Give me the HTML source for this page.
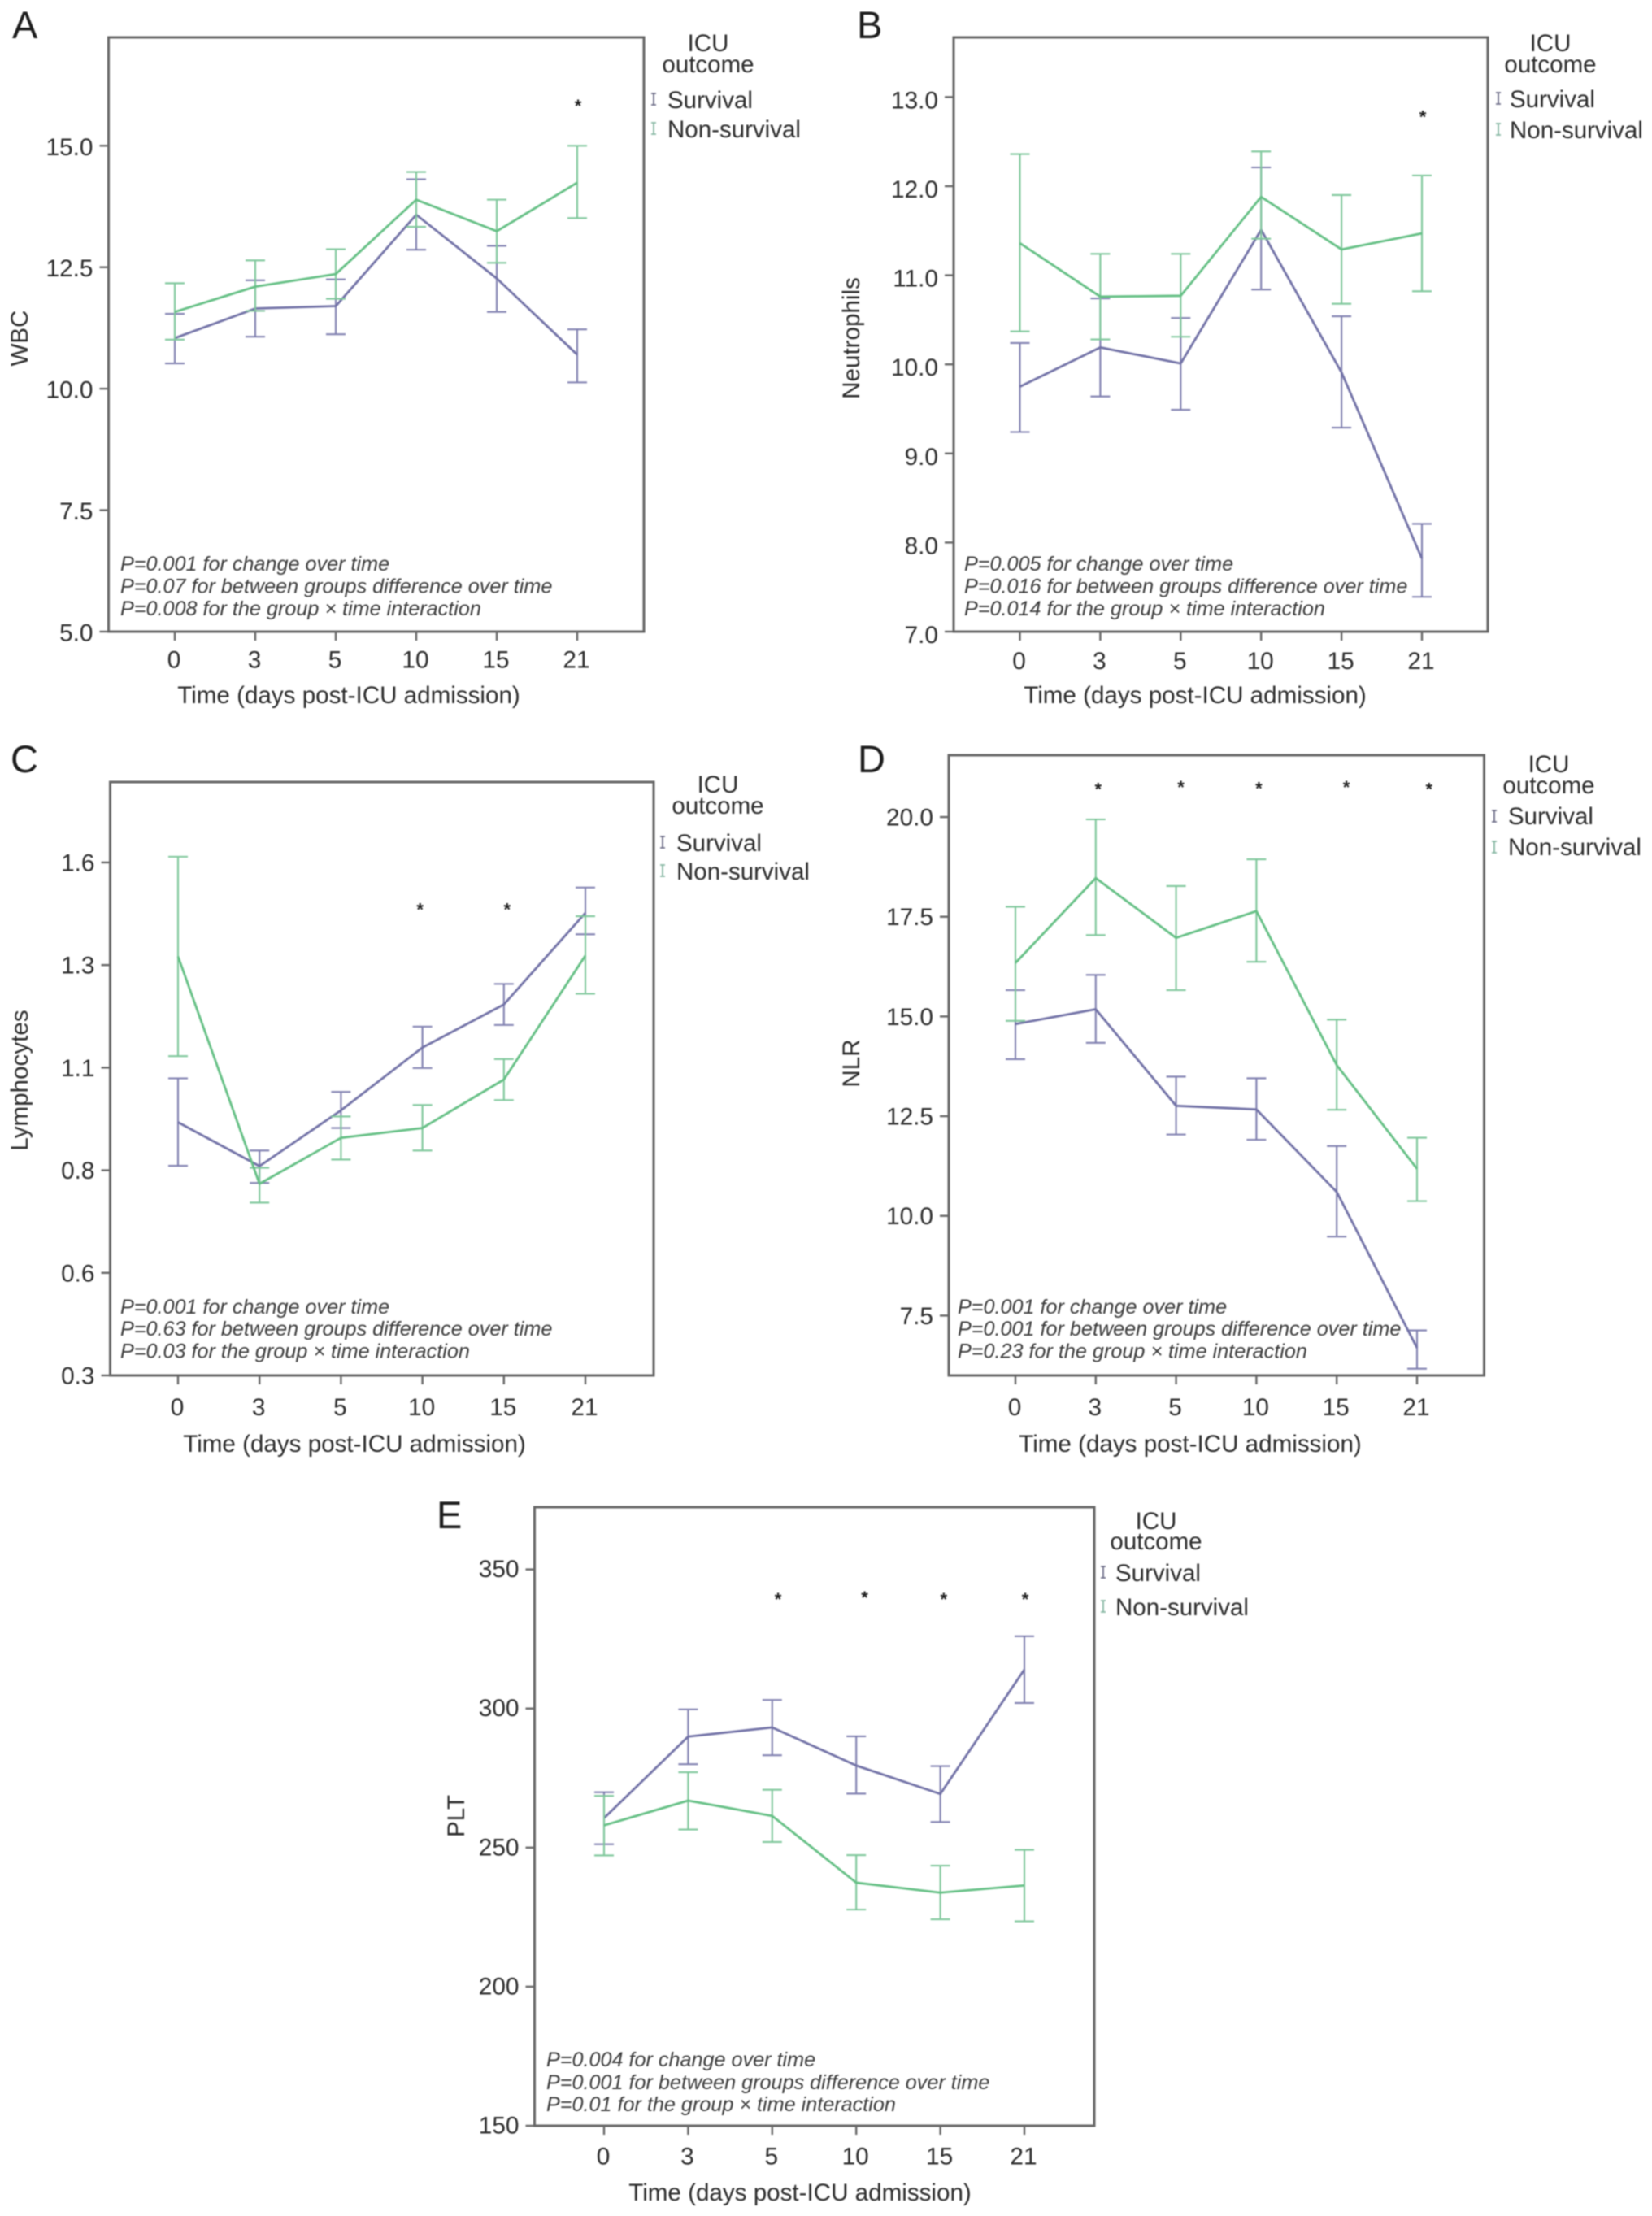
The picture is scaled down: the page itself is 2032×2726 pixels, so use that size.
<!DOCTYPE html>
<html>
<head>
<meta charset="utf-8">
<title>ICU outcome panels</title>
<style>
html,body{margin:0;padding:0;background:#fff;}
svg{display:block;filter:blur(0.85px);}
text{font-family:"Liberation Sans",sans-serif;fill:#2b2b2b;}
.panel-letter{font-size:47px;fill:#1c1c1c;}
.axis-title{font-size:29.6px;}
.legend-text{font-size:29.5px;}
.note{font-size:25.2px;font-style:italic;fill:#3a3a3a;}
.mid{text-anchor:middle;}
</style>
</head>
<body>
<svg id="figure" xmlns="http://www.w3.org/2000/svg" width="2032" height="2726" viewBox="0 0 2032 2726">
<rect width="2032" height="2726" fill="#fff"/>

<g id="panel-a">
<text class="panel-letter" x="15" y="47">A</text>
<text class="axis-title mid" transform="translate(34,416) rotate(-90)">WBC</text>
<text class="axis-title mid" x="429" y="865">Time (days post-ICU admission)</text>
<text class="legend-text mid" x="871" y="63">ICU</text>
<text class="legend-text mid" x="871" y="89">outcome</text>
<text class="legend-text" x="821" y="133">Survival</text>
<text class="legend-text" x="821" y="169">Non-survival</text>
<text class="note" x="148" y="702">P=0.001 for change over time</text>
<text class="note" x="148" y="729.5">P=0.07 for between groups difference over time</text>
<text class="note" x="148" y="757">P=0.008 for the group × time interaction</text>
</g>

<g id="panel-b">
<text class="panel-letter" x="1054" y="47">B</text>
<text class="axis-title mid" transform="translate(1057,416) rotate(-90)">Neutrophils</text>
<text class="axis-title mid" x="1470" y="865">Time (days post-ICU admission)</text>
<text class="legend-text mid" x="1907" y="63">ICU</text>
<text class="legend-text mid" x="1907" y="89">outcome</text>
<text class="legend-text" x="1857" y="132">Survival</text>
<text class="legend-text" x="1857" y="170">Non-survival</text>
<text class="note" x="1186" y="702">P=0.005 for change over time</text>
<text class="note" x="1186" y="729.5">P=0.016 for between groups difference over time</text>
<text class="note" x="1186" y="757">P=0.014 for the group × time interaction</text>
</g>

<g id="panel-c">
<text class="panel-letter" x="13" y="950">C</text>
<text class="axis-title mid" transform="translate(34,1329) rotate(-90)">Lymphocytes</text>
<text class="axis-title mid" x="436" y="1786">Time (days post-ICU admission)</text>
<text class="legend-text mid" x="883" y="975">ICU</text>
<text class="legend-text mid" x="883" y="1001">outcome</text>
<text class="legend-text" x="832" y="1047">Survival</text>
<text class="legend-text" x="832" y="1082">Non-survival</text>
<text class="note" x="148" y="1616">P=0.001 for change over time</text>
<text class="note" x="148" y="1643">P=0.63 for between groups difference over time</text>
<text class="note" x="148" y="1670.5">P=0.03 for the group × time interaction</text>
</g>

<g id="panel-d">
<text class="panel-letter" x="1055" y="950">D</text>
<text class="axis-title mid" transform="translate(1057,1308) rotate(-90)">NLR</text>
<text class="axis-title mid" x="1464" y="1786">Time (days post-ICU admission)</text>
<text class="legend-text mid" x="1905" y="950">ICU</text>
<text class="legend-text mid" x="1905" y="976">outcome</text>
<text class="legend-text" x="1855" y="1014">Survival</text>
<text class="legend-text" x="1855" y="1052">Non-survival</text>
<text class="note" x="1178" y="1616">P=0.001 for change over time</text>
<text class="note" x="1178" y="1643">P=0.001 for between groups difference over time</text>
<text class="note" x="1178" y="1670.5">P=0.23 for the group × time interaction</text>
</g>

<g id="panel-e">
<text class="panel-letter" x="537" y="1880">E</text>
<text class="axis-title mid" transform="translate(571,2234) rotate(-90)">PLT</text>
<text class="axis-title mid" x="984" y="2707">Time (days post-ICU admission)</text>
<text class="legend-text mid" x="1422" y="1881">ICU</text>
<text class="legend-text mid" x="1422" y="1906">outcome</text>
<text class="legend-text" x="1372" y="1945">Survival</text>
<text class="legend-text" x="1372" y="1987">Non-survival</text>
<text class="note" x="672" y="2542">P=0.004 for change over time</text>
<text class="note" x="672" y="2570">P=0.001 for between groups difference over time</text>
<text class="note" x="672" y="2597">P=0.01 for the group × time interaction</text>
</g>
</svg>

<script>
const categories = ["0","3","5","10","15","21"];

const wbcTicks = [5,7.5,10,12.5,15];
const wbcTickLabels = ["5.0","7.5","10.0","12.5","15.0"];
const wbcSurvivalMean  = [11.04,11.65,11.70,13.58,12.27,10.70];
const wbcSurvivalUpper = [11.54,12.23,12.25,14.31,12.94,11.22];
const wbcSurvivalLower = [10.52,11.07,11.12,12.86,11.58,10.13];
const wbcNonMean  = [11.58,12.10,12.36,13.89,13.24,14.24];
const wbcNonUpper = [12.17,12.64,12.87,14.46,13.89,15.00];
const wbcNonLower = [11.01,11.60,11.85,13.33,12.59,13.51];
const wbcStarPositions = [5.01];
const wbcStarLevels = [15.86];

const neuTicks = [7,8,9,10,11,12,13];
const neuTickLabels = ["7.0","8.0","9.0","10.0","11.0","12.0","13.0"];
const neuSurvivalMean  = [9.75,10.19,10.01,11.51,9.91,7.82];
const neuSurvivalUpper = [10.24,10.74,10.52,12.21,10.54,8.21];
const neuSurvivalLower = [9.24,9.64,9.49,10.84,9.29,7.39];
const neuNonMean  = [11.36,10.76,10.77,11.88,11.29,11.47];
const neuNonUpper = [12.36,11.24,11.24,12.39,11.90,12.12];
const neuNonLower = [10.37,10.28,10.31,11.41,10.68,10.82];
const neuStarPositions = [5.01];
const neuStarLevels = [12.8];

const lymTicks = [0.3,0.55,0.8,1.05,1.3,1.55];
const lymTickLabels = ["0.3","0.6","0.8","1.1","1.3","1.6"];
const lymSurvivalMean  = [0.917,0.810,0.946,1.099,1.204,1.427];
const lymSurvivalUpper = [1.024,0.848,0.991,1.150,1.254,1.489];
const lymSurvivalLower = [0.811,0.769,0.903,1.049,1.154,1.375];
const lymNonMean  = [1.321,0.767,0.879,0.903,1.021,1.323];
const lymNonUpper = [1.564,0.806,0.931,0.959,1.071,1.419];
const lymNonLower = [1.078,0.721,0.826,0.848,0.971,1.230];
const lymStarPositions = [2.97,4.04];
const lymStarLevels = [1.44,1.44];

const nlrTicks = [7.5,10,12.5,15,17.5,20];
const nlrTickLabels = ["7.5","10.0","12.5","15.0","17.5","20.0"];
const nlrSurvivalMean  = [14.81,15.18,12.76,12.67,10.60,6.69];
const nlrSurvivalUpper = [15.66,16.04,13.49,13.45,11.75,7.13];
const nlrSurvivalLower = [13.93,14.34,12.04,11.91,9.48,6.17];
const nlrNonMean  = [16.34,18.47,16.97,17.64,13.78,11.18];
const nlrNonUpper = [17.75,19.94,18.27,18.94,14.92,11.96];
const nlrNonLower = [14.89,17.04,15.66,16.37,12.66,10.37];
const nlrStarPositions = [1.03,2.06,3.03,4.12,5.15];
const nlrStarLevels = [20.74,20.80,20.77,20.80,20.74];

const pltTicks = [150,200,250,300,350];
const pltTickLabels = ["150","200","250","300","350"];
const pltSurvivalMean  = [260.6,289.9,293.2,279.5,269.3,314.0];
const pltSurvivalUpper = [269.9,299.7,303.1,290.0,279.3,326.0];
const pltSurvivalLower = [251.2,280.0,283.2,269.4,259.2,302.0];
const pltNonMean  = [258.0,266.9,261.4,237.4,233.8,236.4];
const pltNonUpper = [268.6,277.1,270.8,247.3,243.5,249.2];
const pltNonLower = [247.2,256.5,252.0,227.7,224.2,223.5];
const pltStarPositions = [2.07,3.1,4.04,5.01];
const pltStarLevels = [340.0,340.5,340.0,340.0];

const SURVIVAL_COLOR = "#7171a6";
const NON_COLOR = "#64bf84";
const SURVIVAL_ERR = "#8080b0";
const NON_ERR = "#7fc79b";
const NS = "http://www.w3.org/2000/svg";

function shape(parent, tag, attrs){
  const el = document.createElementNS(NS, tag);
  for (const k in attrs) el.setAttribute(k, attrs[k]);
  parent.appendChild(el);
  return el;
}

function drawPanel(id, box, ticks, tickLabels, survival, non, starPositions, starLevels, legend){
  const g = document.getElementById(id);
  const yScale = v => box.bottom - (v - box.yMin) / (box.yMax - box.yMin) * (box.bottom - box.top);
  const xScale = i => box.x0 + i * (box.x5 - box.x0) / (categories.length - 1);

  const frame = shape(g, 'rect', {x:box.left, y:box.top, width:box.right-box.left, height:box.bottom-box.top, fill:'none', stroke:'#666', 'stroke-width':3});
  
  

  ticks.forEach((t, i) => {
    const y = yScale(t);
    const mark = shape(g, 'line', {x1:box.left-11, x2:box.left, y1:y, y2:y, stroke:'#666', 'stroke-width':2.4});
    
    
    const label = shape(g, 'text', {x:box.left-19, y:y+10.5+box.yLabelDy, 'text-anchor':'end', 'font-size':29.8});
    label.textContent = tickLabels[i];
    
    
  });

  categories.forEach((c, i) => {
    const x = xScale(i);
    const mark = shape(g, 'line', {x1:x, x2:x, y1:box.bottom, y2:box.bottom+11, stroke:'#666', 'stroke-width':2.4});
    
    
    const label = shape(g, 'text', {x:x-1, y:box.bottom+box.xLabelDy, 'text-anchor':'middle', 'font-size':29.8});
    label.textContent = c;
    
    
  });

  [[survival, SURVIVAL_COLOR, SURVIVAL_ERR, 'survival'], [non, NON_COLOR, NON_ERR, 'non-survival']].forEach(([s, color, errColor, key]) => {
    categories.forEach((c, i) => {
      const x = xScale(i);
      const yu = yScale(s.upper[i]);
      const yl = yScale(s.lower[i]);
      const err = shape(g, 'path', {d:`M${x-12} ${yu}H${x+12}M${x} ${yu}V${yl}M${x-12} ${yl}H${x+12}`, fill:'none', stroke:errColor, 'stroke-width':2.1});
      
      
    });
    const pts = s.mean.map((v, i) => xScale(i) + ',' + yScale(v)).join(' ');
    const line = shape(g, 'polyline', {points:pts, fill:'none', stroke:color, 'stroke-width':2.8, 'stroke-linejoin':'round'});
    
    
  });

  starPositions.forEach((p, i) => {
    const star = shape(g, 'text', {x:xScale(p), y:yScale(starLevels[i])+10, 'text-anchor':'middle', 'font-size':22, 'font-weight':'bold', style:'fill:#1c1c1c'});
    star.textContent = '*';
    
    
  });

  [[legend.y1, '#70708a', 'legend-marker-survival'], [legend.y2, '#88b8a4', 'legend-marker-non-survival']].forEach(([y, color, name]) => {
    const m = shape(g, 'path', {d:`M${legend.x-3} ${y-7}H${legend.x+3}M${legend.x} ${y-7}V${y+7}M${legend.x-3} ${y+7}H${legend.x+3}`, fill:'none', stroke:color, 'stroke-width':1.8});
    
    
  });
}

drawPanel('panel-a', {left:133.5,right:792,top:46,bottom:777,x0:215,x5:710,yMin:5,yMax:17.23,yLabelDy:1,xLabelDy:44.5}, wbcTicks, wbcTickLabels,
  {mean:wbcSurvivalMean,upper:wbcSurvivalUpper,lower:wbcSurvivalLower},
  {mean:wbcNonMean,upper:wbcNonUpper,lower:wbcNonLower}, wbcStarPositions, wbcStarLevels, {x:804,y1:122,y2:158});

drawPanel('panel-b', {left:1173,right:1830,top:46,bottom:777,x0:1254.5,x5:1749,yMin:7,yMax:13.67,yLabelDy:3.5,xLabelDy:46}, neuTicks, neuTickLabels,
  {mean:neuSurvivalMean,upper:neuSurvivalUpper,lower:neuSurvivalLower},
  {mean:neuNonMean,upper:neuNonUpper,lower:neuNonLower}, neuStarPositions, neuStarLevels, {x:1843,y1:121,y2:159});

drawPanel('panel-c', {left:135.5,right:804,top:962,bottom:1692,x0:219,x5:720,yMin:0.3,yMax:1.746,yLabelDy:0,xLabelDy:49}, lymTicks, lymTickLabels,
  {mean:lymSurvivalMean,upper:lymSurvivalUpper,lower:lymSurvivalLower},
  {mean:lymNonMean,upper:lymNonUpper,lower:lymNonLower}, lymStarPositions, lymStarLevels, {x:815,y1:1036,y2:1071});

drawPanel('panel-d', {left:1167,right:1825.5,top:929,bottom:1692,x0:1249,x5:1743,yMin:6,yMax:21.55,yLabelDy:0,xLabelDy:49}, nlrTicks, nlrTickLabels,
  {mean:nlrSurvivalMean,upper:nlrSurvivalUpper,lower:nlrSurvivalLower},
  {mean:nlrNonMean,upper:nlrNonUpper,lower:nlrNonLower}, nlrStarPositions, nlrStarLevels, {x:1838,y1:1004,y2:1042});

drawPanel('panel-e', {left:657.5,right:1346,top:1854,bottom:2615,x0:743,x5:1260,yMin:150,yMax:372.4,yLabelDy:-1,xLabelDy:47.5}, pltTicks, pltTickLabels,
  {mean:pltSurvivalMean,upper:pltSurvivalUpper,lower:pltSurvivalLower},
  {mean:pltNonMean,upper:pltNonUpper,lower:pltNonLower}, pltStarPositions, pltStarLevels, {x:1357,y1:1934,y2:1976});
</script>
</body>
</html>
